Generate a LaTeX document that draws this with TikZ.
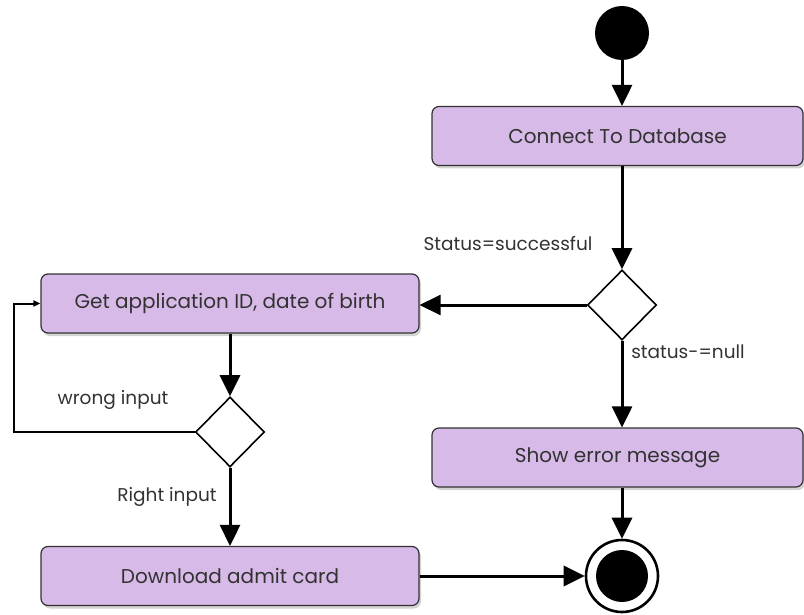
\documentclass[tikz,border=0pt]{standalone}
\usepackage{fontspec}
\setmainfont{Poppins}
\usepackage{tikz}
\usetikzlibrary{positioning,arrows.meta,calc,shapes.geometric,shadows}
\definecolor{lilac}{RGB}{216,186,232}
\definecolor{inkgray}{RGB}{50,50,50}

\begin{document}
\begin{tikzpicture}[x=1pt,y=-1pt,
    action/.style={draw=inkgray,line width=1.2pt,fill=lilac,rounded corners=7pt,
      minimum height=59pt,font=\fontsize{20}{22}\selectfont,text=inkgray,
      drop shadow={opacity=0.35,shadow xshift=2pt,shadow yshift=-3pt}},
    decision/.style={diamond,draw,line width=1.6pt,fill=white,minimum width=69pt,minimum height=70pt,inner sep=0pt},
    flow/.style={line width=3pt,-{Triangle[length=21pt,width=20pt]}},
    guard/.style={font=\fontsize{18.5}{20}\selectfont,text=inkgray}]
        \useasboundingbox (0,0) rectangle (804,615);
        \node[circle,fill=black,minimum size=54pt,inner sep=0pt] (start) at (622,33) {};
        \node[action,minimum width=371pt] (connect) at (617.5,136) {Connect To Database};
        \node[decision] (dbcheck) at (622,305) {};
        \node[action,minimum width=378pt] (getid) at (230,303.5) {Get application ID, date of birth};
        \node[action,minimum width=371pt] (showerr) at (617.5,457.5) {Show error message};
        \node[decision] (inputcheck) at (230,432) {};
        \node[action,minimum width=378pt] (admit) at (230,576) {Download admit card};
        \node[circle,draw,line width=2.6pt,fill=white,minimum size=72pt,inner sep=0pt] (finish) at (622,576) {};
        \node[circle,fill=black,minimum size=52pt,inner sep=0pt] at (finish) {};
        % guards
        \node[guard] (succ) at (508,244) {Status=successful};
        \node[guard] (null) at (688,352) {status-=null};
        \node[guard] (wrong) at (113,400) {wrong input};
        \node[guard] (right) at (167,497) {Right input};
        % flows
        \draw[flow] (start) -- (start |- connect.north);
        \draw[flow] (connect.south -| dbcheck) -- (dbcheck.north);
        \draw[flow] (dbcheck.west) -- (dbcheck.west -| getid.east);
        \draw[flow] (dbcheck.south) -- (dbcheck |- showerr.north);
        \draw[flow] (showerr.south -| finish) -- (finish.north);
        \draw[flow] (getid.south -| inputcheck) -- (inputcheck.north);
        \draw[flow] (inputcheck.south) -- (inputcheck |- admit.north);
        \draw[flow] (admit.east) -- (finish.west);
        \coordinate (loopcorner) at (14,432);
        \draw[line width=2pt,-{Triangle[length=7pt,width=6pt]}] (inputcheck.west) -- (loopcorner) |- (getid.west);
      \end{tikzpicture}
\end{document}
